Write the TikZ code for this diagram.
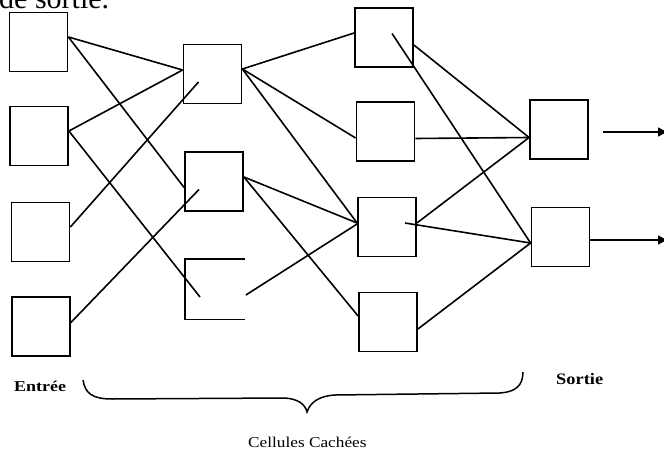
\documentclass[tikz,border=0pt]{standalone}
\usepackage{fontspec}
\setmainfont{Liberation Serif}
\usetikzlibrary{calc,arrows.meta}
\begin{document}
\begin{tikzpicture}[x=1pt,y=-1pt]
\tikzset{
  cell/.style={draw, line width=1.8pt, minimum width=58pt, minimum height=59pt, inner sep=0pt},
  link/.style={line width=1.6pt},
  outarrow/.style={line width=1.3pt, -{Triangle[length=9pt,width=9pt]}},
  lbl/.style={inner sep=0pt}
}
\useasboundingbox (0,0) rectangle (664,452);
\fill[white] (0,0) rectangle (664,452);
% top cropped text
\node[lbl, anchor=base west, font=\fontsize{30}{30}\selectfont] (top) at (-1,9) {de sortie.};
% input layer
\node[cell] (I1) at (38.5,42) {};
\node[cell] (I2) at (39,136) {};
\node[cell] (I3) at (40.5,232) {};
\node[cell] (I4) at (41,326.5) {};
% hidden layer 1
\node[cell] (H1) at (212.5,74) {};
\node[cell] (H2) at (214,181.5) {};
\node[cell, draw=none] (H3) at (215,289) {};
\draw[line width=1.8pt] (H3.north east) -- (H3.north west) -- (H3.south west) -- (H3.south east);
% hidden layer 2
\node[cell] (G1) at (384,37.5) {};
\node[cell] (G2) at (385.5,131.5) {};
\node[cell] (G3) at (387,227) {};
\node[cell] (G4) at (388,322) {};
% output layer
\node[cell] (O1) at (559,129.5) {};
\node[cell] (O2) at (560.5,237) {};
% input -> hidden 1
\draw[link] ($(I1.east)+(0,-5)$) -- ($(H1.west)+(0,-4)$);
\draw[link] ($(I1.east)+(0,-5)$) -- ($(H2.west)+(0,6)$);
\draw[link] ($(I2.east)+(0,-5)$) -- ($(H1.west)+(0,-4)$);
\draw[link] ($(I2.east)+(0,-5)$) -- ($(H3.center)+(-15,8)$);
\draw[link] ($(I3.east)+(0,-5)$) -- ($(H1.center)+(-14,8)$);
\draw[link] ($(I4.east)+(0,-4)$) -- ($(H2.center)+(-15,8)$);
% hidden 1 -> hidden 2
\draw[link] ($(H1.east)+(0,-5)$) -- ($(G1.west)+(0,-4.5)$);
\draw[link] ($(H1.east)+(0,-5)$) -- ($(G2.west)+(0,6.5)$);
\draw[link] ($(H1.east)+(0,-5)$) -- ($(G3.west)+(0,-4)$);
\draw[link] ($(H2.east)+(0,-4.5)$) -- ($(G3.west)+(0,-4)$);
\draw[link] ($(H2.east)+(0,-4.5)$) -- ($(G4.west)+(0,-6)$);
\draw[link] ($(H3.east)+(1,6)$) -- ($(G3.west)+(0,-3)$);
% hidden 2 -> output
\draw[link] ($(G1.east)+(0,7.5)$) -- ($(O1.west)+(0,8)$);
\draw[link] ($(G1.center)+(8,-4)$) -- ($(O2.west)+(0,6)$);
\draw[link] ($(G2.east)+(0,7)$) -- ($(O1.west)+(0,8)$);
\draw[link] ($(G3.east)+(0,-4)$) -- ($(O1.west)+(0,8)$);
\draw[link] ($(G3.center)+(18,-4)$) -- ($(O2.west)+(0,6)$);
\draw[link] ($(G4.east)+(0,7)$) -- ($(O2.west)+(0,6)$);
% outputs
\coordinate (A1s) at (603,132);
\coordinate (A1e) at (667,132);
\coordinate (A2e) at (667,240);
\draw[outarrow] (A1s) -- (A1e);
\draw[outarrow] ($(O2.east)+(0,3)$) -- (A2e);
% brace
\draw[line width=1.5pt] (83,380) .. controls (85,393) and (92,399) .. (112,399)
  -- (285,398) .. controls (298,399) and (305,404) .. (307,412)
  .. controls (310,403) and (318,396) .. (335,395)
  -- (500,393) .. controls (515,392) and (523,386) .. (523,372);
% labels
\node[lbl, anchor=base west, font=\bfseries\fontsize{15}{15}\selectfont] (entree) at (14,391) {\scalebox{1.2}[1]{Entrée}};
\node[lbl, anchor=base west, font=\bfseries\fontsize{16}{16}\selectfont] (sortie) at (556,384) {\scalebox{1.15}[1]{Sortie}};
\node[lbl, anchor=base west, font=\fontsize{15}{15}\selectfont] (cach) at (248,447) {\scalebox{1.15}[1]{Cellules Cachées}};
\end{tikzpicture}
\end{document}
